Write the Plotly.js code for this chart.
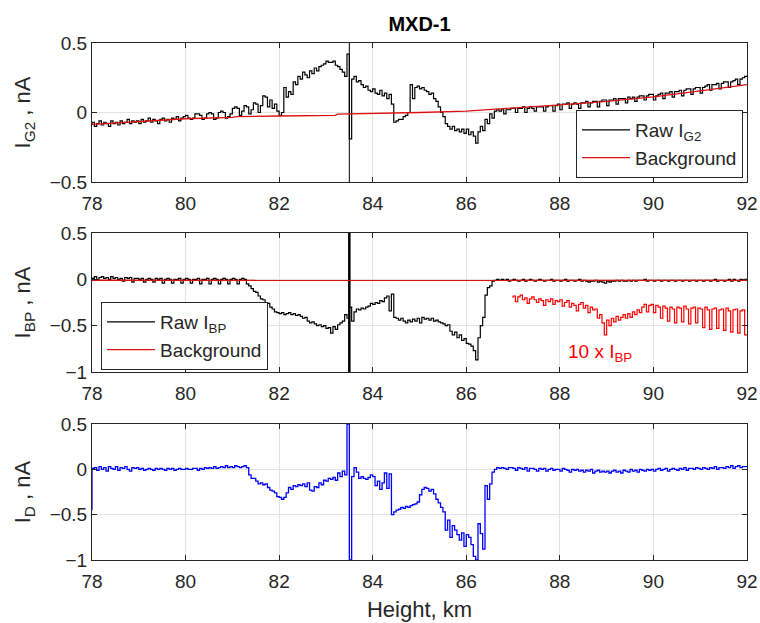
<!DOCTYPE html>
<html>
<head>
<meta charset="utf-8">
<script src="https://cdn.plot.ly/plotly-3.0.1.min.js"></script>
<style>html,body{margin:0;padding:0;background:#fff;}#chart{width:760px;height:623px;}</style>
</head>
<body>
<div id="chart"></div>
<script>
// Height samples (km), 0.05 km spacing
const heights = [
78.00,78.05,78.10,78.15,78.20,78.25,78.30,78.35,78.40,78.45,78.50,78.55,78.60,78.65,78.70,78.75,78.80,78.85,78.90,78.95,
79.00,79.05,79.10,79.15,79.20,79.25,79.30,79.35,79.40,79.45,79.50,79.55,79.60,79.65,79.70,79.75,79.80,79.85,79.90,79.95,
80.00,80.05,80.10,80.15,80.20,80.25,80.30,80.35,80.40,80.45,80.50,80.55,80.60,80.65,80.70,80.75,80.80,80.85,80.90,80.95,
81.00,81.05,81.10,81.15,81.20,81.25,81.30,81.35,81.40,81.45,81.50,81.55,81.60,81.65,81.70,81.75,81.80,81.85,81.90,81.95,
82.00,82.05,82.10,82.15,82.20,82.25,82.30,82.35,82.40,82.45,82.50,82.55,82.60,82.65,82.70,82.75,82.80,82.85,82.90,82.95,
83.00,83.05,83.10,83.15,83.20,83.25,83.30,83.35,83.40,83.45,83.50,83.55,83.60,83.65,83.70,83.75,83.80,83.85,83.90,83.95,
84.00,84.05,84.10,84.15,84.20,84.25,84.30,84.35,84.40,84.45,84.50,84.55,84.60,84.65,84.70,84.75,84.80,84.85,84.90,84.95,
85.00,85.05,85.10,85.15,85.20,85.25,85.30,85.35,85.40,85.45,85.50,85.55,85.60,85.65,85.70,85.75,85.80,85.85,85.90,85.95,
86.00,86.05,86.10,86.15,86.20,86.25,86.30,86.35,86.40,86.45,86.50,86.55,86.60,86.65,86.70,86.75,86.80,86.85,86.90,86.95,
87.00,87.05,87.10,87.15,87.20,87.25,87.30,87.35,87.40,87.45,87.50,87.55,87.60,87.65,87.70,87.75,87.80,87.85,87.90,87.95,
88.00,88.05,88.10,88.15,88.20,88.25,88.30,88.35,88.40,88.45,88.50,88.55,88.60,88.65,88.70,88.75,88.80,88.85,88.90,88.95,
89.00,89.05,89.10,89.15,89.20,89.25,89.30,89.35,89.40,89.45,89.50,89.55,89.60,89.65,89.70,89.75,89.80,89.85,89.90,89.95,
90.00,90.05,90.10,90.15,90.20,90.25,90.30,90.35,90.40,90.45,90.50,90.55,90.60,90.65,90.70,90.75,90.80,90.85,90.90,90.95,
91.00,91.05,91.10,91.15,91.20,91.25,91.30,91.35,91.40,91.45,91.50,91.55,91.60,91.65,91.70,91.75,91.80,91.85,91.90,91.95,
92.00];

// Raw I_G2 (nA)
const rawIG2 = [
-0.09,-0.07,-0.10,-0.08,-0.06,-0.09,-0.07,-0.08,-0.10,-0.06,-0.08,-0.07,-0.09,-0.06,-0.08,-0.07,-0.05,-0.08,-0.06,-0.07,
-0.06,-0.08,-0.05,-0.07,-0.06,-0.04,-0.07,-0.05,-0.06,-0.08,-0.05,-0.04,-0.06,-0.05,-0.07,-0.04,-0.05,-0.03,-0.06,-0.04,
-0.03,-0.02,-0.04,-0.05,-0.04,-0.01,-0.01,-0.02,-0.05,-0.04,-0.01,0.00,-0.01,-0.05,-0.04,0.00,0.01,0.00,-0.04,-0.03,
-0.01,0.03,0.04,0.03,-0.02,0.01,0.05,0.04,-0.01,0.02,0.07,0.06,0.00,0.05,0.12,0.11,0.04,0.09,0.03,0.06,
0.01,-0.02,0.00,0.18,0.11,0.15,0.13,0.22,0.20,0.26,0.24,0.29,0.27,0.25,0.30,0.28,0.32,0.30,0.33,0.34,
0.35,0.37,0.36,0.36,0.37,0.34,0.33,0.31,0.29,0.26,0.42,-0.19,0.24,0.26,0.22,0.23,0.20,0.18,0.19,0.16,
0.15,0.17,0.14,0.13,0.16,0.12,0.14,0.10,0.13,0.06,-0.07,-0.06,-0.05,-0.05,-0.03,-0.02,0.00,0.20,0.10,0.18,
0.19,0.17,0.18,0.16,0.15,0.13,0.14,0.10,0.08,0.04,0.00,-0.03,-0.08,-0.10,-0.12,-0.10,-0.13,-0.12,-0.14,-0.12,
-0.15,-0.12,-0.16,-0.14,-0.17,-0.22,-0.14,-0.10,-0.13,-0.05,-0.08,-0.01,-0.04,0.01,0.02,0.01,0.02,-0.01,0.02,0.02,
0.03,0.03,0.00,0.03,0.03,0.04,0.00,0.03,0.04,0.03,0.01,0.04,0.04,0.04,0.01,0.04,0.05,0.05,0.01,0.05,
0.06,0.02,0.06,0.06,0.07,0.03,0.06,0.07,0.06,0.03,0.07,0.07,0.08,0.04,0.07,0.08,0.08,0.04,0.08,0.09,
0.09,0.05,0.09,0.09,0.10,0.06,0.10,0.10,0.10,0.07,0.11,0.10,0.11,0.08,0.11,0.12,0.12,0.09,0.12,0.13,
0.13,0.09,0.12,0.13,0.14,0.10,0.14,0.14,0.15,0.11,0.15,0.15,0.16,0.12,0.16,0.17,0.17,0.13,0.17,0.18,
0.18,0.14,0.18,0.19,0.20,0.16,0.20,0.20,0.21,0.17,0.21,0.22,0.22,0.18,0.22,0.23,0.24,0.20,0.24,0.25,
0.26];

// Background for I_G2
const bgG2Heights = [78, 79, 80, 81, 81.1, 82, 83.2, 83.25, 84.5, 85, 86, 87, 88, 89, 90, 91, 92];
const bgG2Values  = [-0.085, -0.065, -0.045, -0.035, -0.03, -0.025, -0.02, -0.012, -0.005, 0.0, 0.01, 0.03, 0.055, 0.08, 0.113, 0.155, 0.2];

// Raw I_BP (nA)
const rawIBP = [
0.02,0.01,0.03,0.00,0.02,0.03,0.01,0.02,0.00,0.03,0.01,0.02,0.00,0.01,-0.02,0.02,0.01,0.02,-0.03,0.01,
0.01,0.00,0.01,-0.03,0.00,0.01,0.00,-0.03,0.01,0.00,0.01,-0.04,0.00,0.01,0.00,-0.04,0.00,0.00,0.01,-0.04,
0.00,0.01,0.00,-0.04,0.00,0.00,0.01,-0.05,0.00,0.00,0.01,-0.05,0.00,0.01,0.00,-0.05,0.00,0.01,0.00,-0.05,
0.00,0.01,0.00,-0.05,0.00,0.01,0.00,-0.05,-0.07,-0.10,-0.13,-0.14,-0.18,-0.21,-0.22,-0.25,-0.26,-0.30,-0.32,-0.35,
-0.36,-0.37,-0.36,-0.38,-0.37,-0.36,-0.38,-0.37,-0.39,-0.38,-0.40,-0.42,-0.41,-0.45,-0.47,-0.46,-0.48,-0.50,-0.49,-0.51,
-0.50,-0.53,-0.52,-0.58,-0.51,-0.54,-0.49,-0.47,-0.45,-0.38,-0.42,-0.30,-0.45,-0.35,-0.32,-0.33,-0.31,-0.32,-0.30,-0.29,
-0.26,-0.27,-0.25,-0.26,-0.23,-0.24,-0.20,-0.18,-0.34,-0.16,-0.41,-0.42,-0.44,-0.42,-0.45,-0.47,-0.44,-0.46,-0.43,-0.45,
-0.42,-0.47,-0.41,-0.43,-0.42,-0.44,-0.42,-0.45,-0.44,-0.46,-0.47,-0.48,-0.50,-0.49,-0.56,-0.60,-0.57,-0.63,-0.60,-0.66,
-0.64,-0.69,-0.70,-0.72,-0.77,-0.87,-0.63,-0.50,-0.41,-0.17,-0.09,-0.07,-0.02,-0.01,0.00,-0.01,0.00,-0.01,0.00,-0.02,
-0.01,0.00,-0.01,-0.02,-0.01,0.00,-0.02,-0.01,0.00,-0.01,-0.02,-0.01,0.00,-0.01,-0.02,-0.01,-0.01,0.00,-0.02,-0.01,
-0.01,-0.02,-0.01,0.00,-0.02,-0.01,-0.01,-0.02,-0.01,0.00,-0.02,-0.01,-0.02,-0.03,-0.02,-0.02,-0.01,-0.03,-0.02,-0.03,
-0.04,-0.02,-0.03,-0.02,-0.02,-0.01,-0.02,-0.01,-0.02,-0.02,-0.01,-0.02,-0.01,-0.02,-0.01,-0.01,-0.01,0.00,-0.02,-0.01,
-0.01,-0.02,-0.01,-0.01,-0.02,-0.01,-0.01,-0.02,-0.01,-0.01,-0.02,-0.01,-0.01,-0.02,-0.01,-0.01,-0.02,-0.01,-0.01,-0.02,
-0.01,-0.01,-0.02,-0.01,-0.01,-0.02,-0.01,0.00,-0.02,-0.01,-0.01,-0.02,-0.01,0.00,-0.02,0.00,-0.01,-0.02,0.00,-0.01,
0.00];

// Background for I_BP
const bgBPHeights = [78, 92];
const bgBPValues  = [-0.01, -0.012];

// 10 x I_BP above 87 km
const tenxHeights = heights.slice(180);
const tenxIBP = [
-0.20,-0.18,-0.24,-0.19,-0.17,-0.22,-0.20,-0.26,-0.21,-0.19,-0.22,-0.25,-0.21,-0.23,-0.28,-0.22,-0.24,-0.21,-0.27,-0.23,
-0.24,-0.22,-0.29,-0.25,-0.23,-0.30,-0.26,-0.28,-0.34,-0.27,-0.25,-0.31,-0.28,-0.36,-0.30,-0.33,-0.32,-0.42,-0.38,-0.47,
-0.60,-0.44,-0.50,-0.42,-0.46,-0.40,-0.44,-0.41,-0.38,-0.42,-0.37,-0.41,-0.35,-0.38,-0.33,-0.36,-0.30,-0.27,-0.35,-0.28,
-0.27,-0.36,-0.28,-0.30,-0.42,-0.29,-0.31,-0.45,-0.30,-0.32,-0.47,-0.30,-0.31,-0.46,-0.29,-0.32,-0.48,-0.31,-0.30,-0.47,
-0.31,-0.32,-0.52,-0.30,-0.33,-0.54,-0.32,-0.31,-0.53,-0.33,-0.32,-0.55,-0.31,-0.34,-0.57,-0.33,-0.32,-0.58,-0.34,-0.33,
-0.60];

// I_D (nA)
const iD = [
-0.45,0.01,0.02,-0.01,0.03,0.00,0.02,-0.02,0.03,0.01,0.00,0.03,-0.01,0.02,0.01,0.03,0.00,-0.02,0.02,0.01,
0.02,0.00,0.01,-0.01,0.00,0.01,0.00,-0.01,0.01,0.00,0.01,0.00,-0.01,0.01,0.00,0.01,-0.01,0.00,0.01,0.00,
0.00,0.01,0.00,0.00,0.01,0.01,-0.01,0.01,0.00,0.02,0.01,0.02,0.01,0.03,0.01,0.02,0.03,0.02,0.04,0.02,
0.03,0.02,0.04,0.03,0.02,0.03,0.04,0.02,-0.06,-0.10,-0.10,-0.13,-0.16,-0.15,-0.17,-0.16,-0.20,-0.23,-0.24,-0.26,
-0.30,-0.31,-0.33,-0.31,-0.26,-0.20,-0.22,-0.18,-0.19,-0.17,-0.18,-0.16,-0.19,-0.15,-0.23,-0.24,-0.19,-0.20,-0.15,-0.17,
-0.12,-0.13,-0.10,-0.11,-0.09,-0.12,-0.04,-0.08,-0.02,-0.06,0.50,-1.00,-0.08,0.02,-0.03,-0.10,-0.08,-0.10,-0.11,-0.09,
-0.06,-0.08,-0.18,-0.13,-0.22,-0.15,-0.04,-0.21,-0.05,-0.50,-0.47,-0.45,-0.44,-0.42,-0.43,-0.41,-0.42,-0.40,-0.39,-0.38,
-0.36,-0.28,-0.22,-0.20,-0.21,-0.24,-0.22,-0.27,-0.33,-0.37,-0.42,-0.47,-0.67,-0.56,-0.75,-0.62,-0.67,-0.72,-0.78,-0.70,
-0.85,-0.72,-0.75,-0.83,-0.96,-1.00,-0.60,-0.71,-0.88,-0.18,-0.33,-0.16,-0.03,0.00,0.02,0.01,0.02,0.01,0.00,0.02,
0.02,0.01,-0.01,0.02,0.01,0.00,0.02,-0.02,0.01,0.01,0.00,-0.02,0.01,0.00,0.01,-0.02,0.00,0.01,-0.01,0.00,
0.00,-0.02,0.01,0.00,-0.01,-0.03,0.00,-0.01,0.00,-0.02,-0.01,-0.03,-0.01,-0.02,0.00,-0.04,-0.02,-0.01,-0.03,-0.02,
-0.03,-0.02,-0.04,-0.02,-0.01,-0.03,-0.02,-0.04,-0.01,-0.02,-0.03,0.00,-0.02,-0.01,-0.03,0.00,-0.01,-0.02,0.00,-0.01,
0.00,-0.02,0.00,0.01,-0.01,0.00,0.01,-0.02,0.00,0.01,0.00,-0.01,0.01,0.00,0.02,-0.01,0.01,0.01,0.00,0.02,
0.01,0.00,0.02,0.01,0.00,0.02,0.01,0.03,0.00,0.02,0.02,0.01,0.03,0.02,0.04,0.01,0.03,0.04,0.02,0.03,
0.03];

// Event marker height (km) and panel ranges
const eventHeight = [83.5, 83.5];
const g2Range = [-0.5, 0.5];
const bpRange = [-1, 0.5];
const dRange = [-1, 0.5];
const heightTicks = [78, 80, 82, 84, 86, 88, 90, 92];
const g2Ticks = [-0.5, 0, 0.5];
const bpTicks = [-1, -0.5, 0, 0.5];
const dTicks = [-1, -0.5, 0, 0.5];
const annotationPos = {x: 88.85, y: -0.79};

const FONT = 'Liberation Sans, Arial, Helvetica, sans-serif';
const TXT = '#262626';

const traces = [
  {x: heights, y: rawIG2, xaxis: 'x', yaxis: 'y', type: 'scatter', mode: 'lines', line: {color: '#000', width: 1.2, shape: 'vh'}, name: 'Raw I<sub>G2</sub>', legend: 'legend'},
  {x: eventHeight, y: g2Range, xaxis: 'x', yaxis: 'y', type: 'scatter', mode: 'lines', line: {color: '#000', width: 1}, showlegend: false, hoverinfo: 'skip'},
  {x: bgG2Heights, y: bgG2Values, xaxis: 'x', yaxis: 'y', type: 'scatter', mode: 'lines', line: {color: '#dd1010', width: 1.3}, name: 'Background', legend: 'legend'},

  {x: heights, y: rawIBP, xaxis: 'x2', yaxis: 'y2', type: 'scatter', mode: 'lines', line: {color: '#000', width: 1.2, shape: 'vh'}, name: 'Raw I<sub>BP</sub>', legend: 'legend2'},
  {x: eventHeight, y: bpRange, xaxis: 'x2', yaxis: 'y2', type: 'scatter', mode: 'lines', line: {color: '#000', width: 2.5}, showlegend: false, hoverinfo: 'skip'},
  {x: bgBPHeights, y: bgBPValues, xaxis: 'x2', yaxis: 'y2', type: 'scatter', mode: 'lines', line: {color: '#dd1010', width: 1.3}, name: 'Background', legend: 'legend2'},
  {x: tenxHeights, y: tenxIBP, xaxis: 'x2', yaxis: 'y2', type: 'scatter', mode: 'lines', line: {color: '#ff0000', width: 1.2, shape: 'vh'}, showlegend: false},

  {x: heights, y: iD, xaxis: 'x3', yaxis: 'y3', type: 'scatter', mode: 'lines', line: {color: '#0000ff', width: 1.3, shape: 'vh'}, showlegend: false}
];

function xax(anchor, showTitle) {
  const a = {
    anchor: anchor, range: [78, 92], tickmode: 'array', tickvals: heightTicks,
    ticks: 'inside', ticklen: 5, tickcolor: TXT, tickwidth: 1, ticklabelstandoff: 4,
    showline: true, linecolor: TXT, linewidth: 1, mirror: 'ticks',
    showgrid: true, gridcolor: '#e4e4e4', gridwidth: 1, zeroline: false,
    tickfont: {family: FONT, size: 19, color: TXT}, automargin: false
  };
  if (showTitle) a.title = {text: 'Height, km', font: {family: FONT, size: 22, color: TXT}, standoff: 10};
  return a;
}
function yax(anchor, dom, range, ticks, title) {
  return {
    anchor: anchor, domain: dom, range: range, tickmode: 'array', tickvals: ticks,
    ticks: 'inside', ticklen: 5, tickcolor: TXT, tickwidth: 1,
    showline: true, linecolor: TXT, linewidth: 1, mirror: 'ticks',
    showgrid: true, gridcolor: '#e4e4e4', gridwidth: 1, zeroline: false,
    tickfont: {family: FONT, size: 19, color: TXT}, automargin: false,
    title: {text: title, font: {family: FONT, size: 22, color: TXT}, standoff: 12}
  };
}

const legendCommon = {bgcolor: '#fff', bordercolor: TXT, borderwidth: 1, itemwidth: 48, font: {family: FONT, size: 19, color: TXT}};

const layout = {
  width: 760, height: 623,
  margin: {l: 92, r: 13, t: 43, b: 63},
  paper_bgcolor: '#fff', plot_bgcolor: '#fff',
  font: {family: FONT, color: TXT},
  title: {text: '<b>MXD-1</b>', font: {family: FONT, size: 20, color: '#000'}, xref: 'paper', x: 0.5, xanchor: 'center', yref: 'container', y: 1 - 24 / 623, yanchor: 'middle'},
  xaxis: xax('y', false),
  yaxis: yax('x', [0.7311, 1.0], g2Range, g2Ticks, 'I<sub>G2</sub> , nA'),
  xaxis2: xax('y2', false),
  yaxis2: yax('x2', [0.3636, 0.6325], bpRange, bpTicks, 'I<sub>BP</sub> , nA'),
  xaxis3: xax('y3', true),
  yaxis3: yax('x3', [0, 0.263], dRange, dTicks, 'I<sub>D</sub> , nA'),
  legend: Object.assign({x: 0.9939, xanchor: 'right', y: 0.7389, yanchor: 'bottom'}, legendCommon),
  legend2: Object.assign({x: 0.0137, xanchor: 'left', y: 0.3675, yanchor: 'bottom'}, legendCommon),
  annotations: [
    {xref: 'x2', yref: 'y2', x: annotationPos.x, y: annotationPos.y, text: '10 x I<sub>BP</sub>', showarrow: false, font: {family: FONT, size: 19, color: '#ff0000'}}
  ],
  showlegend: true
};

Plotly.newPlot('chart', traces, layout, {displayModeBar: false, staticPlot: true});
</script>
</body>
</html>
